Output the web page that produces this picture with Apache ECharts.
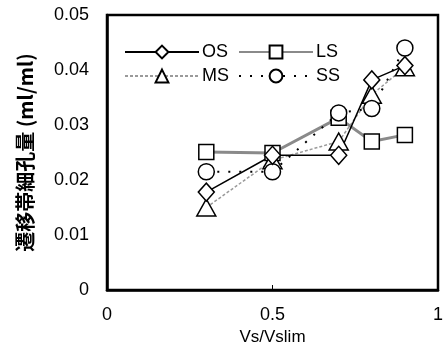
<!doctype html>
<html>
<head>
<meta charset="UTF-8">
<title></title>
<script src="https://cdn.jsdelivr.net/npm/echarts@6/dist/echarts.min.js"></script>
<style type="text/css">
	html, body { margin: 0; padding: 0; background: #fff; }
	#chart { width: 446px; height: 361px; }
</style>
</head>
<body>
<div id="chart"></div>
<script type="text/javascript">
	// Vs/Vslim values
	var xVals = [0.3, 0.5, 0.7, 0.8, 0.9];
	// 遷移帯細孔量 (ml/ml)
	var osVals = [0.0178, 0.0245, 0.0245, 0.0382, 0.0408];
	var lsVals = [0.0251, 0.0249, 0.0313, 0.0270, 0.0282];
	var msVals = [0.0150, 0.0236, 0.0270, 0.0355, 0.0405];
	var ssVals = [0.0215, 0.0215, 0.0322, 0.0330, 0.0440];
	var yTicks = ['0', '0.01', '0.02', '0.03', '0.04', '0.05'];
	var xTicks = ['0', '0.5', '1'];

	var pairs = function(ys){
		var out = [];
		for (var i = 0; i < xVals.length; i++) out.push([xVals[i], ys[i]]);
		return out;
	};

	var font = '"Liberation Sans", Arial, sans-serif';
	var mk = { color: '#fff', borderColor: '#000', borderWidth: 1.5 };

	var legendAt = function(name, left, top){
		return {
			data: [name], left: left, top: top,
			itemWidth: 74, itemHeight: 16, itemGap: 0,
			textStyle: { color: '#000', fontSize: 18, fontFamily: font, padding: [0, 0, 0, -2] }
		};
	};

	var chart = echarts.init(document.getElementById('chart'));
	var option = {
		animation: false,
		grid: { left: 107, right: 4, top: 15, bottom: 71, show: true, borderColor: '#000', borderWidth: 2.5 },
		legend: [
			legendAt('OS', 119, 38),
			legendAt('LS', 233, 38),
			legendAt('MS', 119, 62),
			legendAt('SS', 233, 62)
		],
		xAxis: {
			type: 'value', min: 0, max: 1, interval: 0.5,
			name: 'Vs/Vslim', nameLocation: 'middle', nameGap: 38,
			nameTextStyle: { color: '#000', fontSize: 17, fontFamily: font },
			axisLine: { lineStyle: { color: '#000', width: 2.5 } },
			axisTick: { inside: true, length: 5, lineStyle: { color: '#000' } },
			splitLine: { show: false },
			axisLabel: { color: '#000', fontSize: 18, fontFamily: font, margin: 16,
				formatter: function(v){ return xTicks[Math.round(v / 0.5)]; } }
		},
		yAxis: {
			type: 'value', min: 0, max: 0.05, interval: 0.01,
			name: '遷移帯細孔量 (ml/ml)', nameLocation: 'middle', nameGap: 72, nameRotate: 90,
			nameTextStyle: { color: '#000', fontSize: 20, fontWeight: 'bold', fontFamily: '"Noto Sans CJK JP", sans-serif' },
			axisLine: { show: true, lineStyle: { color: '#000', width: 2.5 } },
			axisTick: { show: false },
			splitLine: { show: false },
			axisLabel: { color: '#000', fontSize: 18, fontFamily: font, margin: 18,
				formatter: function(v){ return yTicks[Math.round(v / 0.01)]; } }
		},
		series: [
			{ name: 'LS', type: 'line', data: pairs(lsVals), symbol: 'rect', symbolSize: 15,
				lineStyle: { color: '#8a8a8a', width: 3 }, itemStyle: mk },
			{ name: 'MS', type: 'line', data: pairs(msVals), symbol: 'triangle', symbolSize: [19, 17],
				lineStyle: { color: '#9a9a9a', width: 1.5, type: [3, 2] }, itemStyle: mk },
			{ name: 'SS', type: 'line', data: pairs(ssVals), symbol: 'circle', symbolSize: 16,
				lineStyle: { color: '#000', width: 2, type: [2, 9] }, itemStyle: mk },
			{ name: 'OS', type: 'line', data: pairs(osVals), symbol: 'diamond', symbolSize: [16, 18],
				lineStyle: { color: '#000', width: 1.5 }, itemStyle: mk }
		]
	};
	chart.setOption(option);
</script>
</body>
</html>
